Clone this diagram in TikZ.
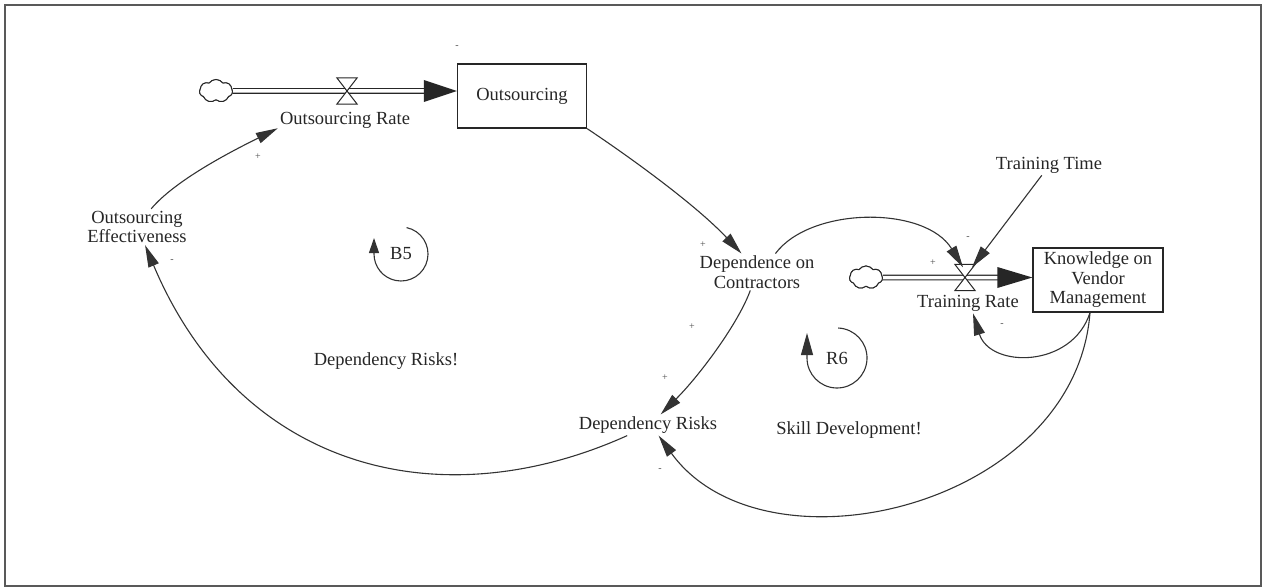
\documentclass[tikz,border=0pt]{standalone}
\usepackage{fontspec}
\setmainfont{Liberation Serif}
\usetikzlibrary{arrows.meta,shapes.symbols}

\tikzset{
  lbl/.style={font=\fontsize{18.5}{19.5}\selectfont, text=black!85, inner sep=2pt, align=center},
  stock/.style={lbl, draw=black!85, line width=1.3pt, minimum width=129pt, minimum height=64pt},
  link/.style={draw=black!80, line width=1.1pt, -{Triangle[length=22pt,width=11pt]}},
  loopline/.style={draw=black!80, line width=1.1pt},
  pipe/.style={draw=black!85, double=white, double distance=3.5pt, line width=1.1pt},
  source/.style={cloud, cloud puffs=7, cloud puff arc=110, aspect=1.4, draw=black!85,
    fill=white, line width=1pt, minimum width=33pt, minimum height=23pt, inner sep=0pt},
  valve/.style={minimum width=20pt, minimum height=26pt, inner sep=0pt},
  valveline/.style={draw=black!85, fill=white, line width=1pt, line join=miter},
  flowhead/.style={fill=black!85},
  pol/.style={font=\fontsize{10}{10}\selectfont, text=black!70, inner sep=0pt},
}

\begin{document}
\begin{tikzpicture}[x=1pt,y=1pt]
\useasboundingbox (0,0) rectangle (1265,-588);
\draw[draw=black!65, line width=1.8pt] (5,-5) rectangle (1261,-586);

% --- stocks, auxiliaries and loop labels
\node[stock] (outs) at (522,-96) {Outsourcing};
\node[stock, minimum width=130pt] (kvm) at (1098,-280) {Knowledge on\\Vendor\\Management};
\node[lbl] (orate) at (345,-120) {Outsourcing Rate};
\node[lbl] (oe) at (137,-227) {Outsourcing\\Effectiveness};
\node[lbl] (dc) at (757,-272) {Dependence on\\Contractors};
\node[lbl] (dr) at (648,-425) {Dependency Risks};
\node[lbl] (tt) at (1049,-165) {Training Time};
\node[lbl] (trate) at (968,-303) {Training Rate};
\node[lbl] (drisk) at (386,-361) {Dependency Risks!};
\node[lbl] (skill) at (849,-430) {Skill Development!};
\node[lbl] (b5) at (401,-254) {B5};
\node[lbl] (r6) at (837,-358) {R6};

% --- outsourcing flow
\node[source] (cloud1) at (216,-91) {};
\node[valve] (v1) at (347,-91) {};
\draw[pipe, shorten >=28pt] (cloud1.east) -- (outs.west |- v1);
\fill[flowhead] (outs.west |- v1) -- ++(-33,11) -- ++(0,-22) -- cycle;
\draw[valveline] (v1.north west) -- (v1.north east) -- (v1.south west) -- (v1.south east) -- cycle;
\node[source] at (cloud1) {};

% --- training flow
\node[source] (cloud2) at (866,-277.5) {};
\node[valve] (v2) at (965,-277.5) {};
\draw[pipe, shorten >=30pt] (cloud2.east) -- (kvm.west |- v2);
\fill[flowhead] (kvm.west |- v2) -- ++(-35,10.5) -- ++(0,-21) -- cycle;
\draw[valveline] (v2.north west) -- (v2.north east) -- (v2.south west) -- (v2.south east) -- cycle;
\node[source] at (cloud2) {};

% --- causal links
\draw[link] (oe.52) .. controls +(25,30) and +(-40,-20) .. (orate.187);
\draw[link] (dr.207) .. controls (440,-520) and (240,-470) .. (oe.294);
\draw[link] (outs.south east) .. controls +(45,-30) and +(-45,48) .. (dc.130);
\draw[link] (dc.250) .. controls +(-12,-33) and +(39,39) .. (dr.40);
\draw[link] (dc.45) .. controls +(35,47) and +(-38,62) .. ([xshift=-2pt,yshift=-3pt]v2.north);
\draw[link] (tt.235) -- ([xshift=7pt,yshift=-3pt]v2.north);
\draw[link] ([xshift=-8pt]kvm.south) .. controls +(-18,-56) and +(17,-55) .. ([xshift=5pt]trate.south);
\draw[link] ([xshift=-8pt]kvm.south) .. controls +(-15,-195) and +(105,-145) .. (dr.-45);

% --- loop markers
\draw[loopline, -{Triangle[length=15pt,width=10pt]}]
  ([shift={(78:27pt)}]b5.center) arc[start angle=78, end angle=-180, radius=27pt] -- ++(0,16);
\draw[loopline, -{Triangle[length=22pt,width=12pt]}]
  ([shift={(88:30pt)}]r6.center) arc[start angle=88, end angle=-180, radius=30pt] -- ++(0,25);

% --- link polarities
\node[pol] (p1) at (258,-157) {+};
\node[pol] (p2) at (172,-261) {-};
\node[pol] (p3) at (703,-245) {+};
\node[pol] (p4) at (692,-327) {+};
\node[pol] (p5) at (665,-378) {+};
\node[pol] (p6) at (933,-263) {+};
\node[pol] (p7) at (968,-238) {-};
\node[pol] (p8) at (1002,-325) {-};
\node[pol] (p9) at (660,-470) {-};
\node[pol] (p10) at (457,-47) {-};
\end{tikzpicture}
\end{document}
